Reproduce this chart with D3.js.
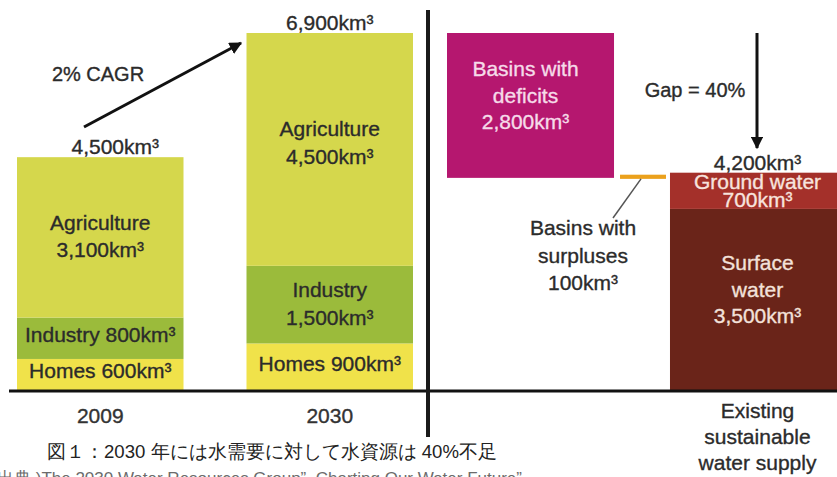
<!DOCTYPE html>
<html>
<head>
<meta charset="utf-8">
<script src="https://cdn.jsdelivr.net/npm/d3@7/dist/d3.min.js"></script>
<style>
  html, body { margin: 0; padding: 0; background: #fff; }
  svg { display: block; }
  text { font-family: "Liberation Sans", Arial, sans-serif; }
</style>
</head>
<body>
<svg id="chart" width="837" height="477"></svg>
<script>
// Water demand (km³)
const years = ["2009", "2030"];
const homes = [600, 900];
const industry = [800, 1500];
const agriculture = [3100, 4500];
const demandTotals = [4500, 6900];

// Supply side (km³)
const supplyCols = ["deficits", "existing"];
const deficits = 2800;
const surpluses = 100;
const groundWater = 700;
const surfaceWater = 3500;
const supplyTotal = 4200;

const colors = {
  homes: "#f0e24a",
  industry: "#9bbb3b",
  agriculture: "#d5d74c",
  deficits: "#b5176f",
  surpluses: "#eba11c",
  ground: "#a4302a",
  surface: "#6a2419"
};

const svg = d3.select("#chart");
const baseY = 390;

const y = d3.scaleLinear().domain([0, 6900]).range([baseY, 33]);

const xLeft = d3.scaleBand().domain(years).range([17, 413]).paddingInner(0.2745).paddingOuter(0);
const xRight = d3.scaleBand().domain(supplyCols).range([447, 837]).paddingInner(0.251).paddingOuter(0);

// Stacked demand bars
const stackRows = years.map((yr, i) => ({ year: yr, homes: homes[i], industry: industry[i], agriculture: agriculture[i] }));
const stack = d3.stack().keys(["homes", "industry", "agriculture"])(stackRows);

svg.append("g").selectAll("g")
  .data(stack)
  .join("g")
  .attr("fill", d => colors[d.key])
  .selectAll("rect")
  .data(d => d)
  .join("rect")
  .attr("x", d => xLeft(d.data.year))
  .attr("width", xLeft.bandwidth())
  .attr("y", d => y(d[1]))
  .attr("height", d => y(d[0]) - y(d[1]));

// Supply side blocks
const existingX = xRight("existing");
const bw = xRight.bandwidth();
svg.append("rect")
  .attr("x", existingX).attr("width", bw)
  .attr("y", y(surfaceWater)).attr("height", y(0) - y(surfaceWater))
  .attr("fill", colors.surface);
svg.append("rect")
  .attr("x", existingX).attr("width", bw)
  .attr("y", y(surfaceWater + groundWater)).attr("height", y(surfaceWater) - y(surfaceWater + groundWater))
  .attr("fill", colors.ground);

const defBottom = supplyTotal - surpluses;
svg.append("rect")
  .attr("x", xRight("deficits")).attr("width", bw)
  .attr("y", y(defBottom + deficits)).attr("height", y(defBottom) - y(defBottom + deficits))
  .attr("fill", colors.deficits);

// surplus strip sits in the gap between the two blocks
const surX0 = xRight("deficits") + bw + 6;
const surX1 = existingX - 4;
svg.append("rect")
  .attr("x", surX0).attr("width", surX1 - surX0)
  .attr("y", y(supplyTotal) + 2).attr("height", Math.max(3, y(defBottom) - y(supplyTotal) - 1))
  .attr("fill", colors.surpluses);

// leader line for the surplus label
svg.append("line")
  .attr("x1", 641).attr("y1", y(defBottom) + 1)
  .attr("x2", 613).attr("y2", 218)
  .attr("stroke", "#555").attr("stroke-width", 1.5);

// Axis baseline and divider
svg.append("line")
  .attr("x1", 9).attr("x2", 837).attr("y1", baseY + 1).attr("y2", baseY + 1)
  .attr("stroke", "#111").attr("stroke-width", 3);
svg.append("line")
  .attr("x1", 428).attr("x2", 428).attr("y1", 10).attr("y2", 437)
  .attr("stroke", "#1a1a1a").attr("stroke-width", 4);

// Arrowheads
const defs = svg.append("defs");
defs.append("marker")
  .attr("id", "arrow")
  .attr("viewBox", "0 0 10 10")
  .attr("refX", 9).attr("refY", 5)
  .attr("markerWidth", 4.2).attr("markerHeight", 4.2)
  .attr("markerUnits", "strokeWidth")
  .attr("orient", "auto")
  .append("path").attr("d", "M0,0 L10,5 L0,10 z").attr("fill", "#111");

svg.append("line")
  .attr("x1", 84).attr("y1", 127).attr("x2", 241).attr("y2", 43)
  .attr("stroke", "#111").attr("stroke-width", 3).attr("marker-end", "url(#arrow)");
svg.append("line")
  .attr("x1", 757).attr("y1", 33).attr("x2", 757).attr("y2", 148)
  .attr("stroke", "#111").attr("stroke-width", 3).attr("marker-end", "url(#arrow)");

// Labels
const fmt = d3.format(",");
const km = v => fmt(v) + "km³";
const dark = "#2b2b2b";

function label(x, yy, lines, color, lh, size) {
  const t = svg.append("text")
    .attr("x", x).attr("y", yy)
    .attr("text-anchor", "middle")
    .attr("fill", color)
    .attr("stroke", color)
    .attr("stroke-width", 0.35)
    .attr("font-size", size || 21);
  lines.forEach((s, i) => {
    t.append("tspan").attr("x", x).attr("dy", i === 0 ? 0 : lh).text(s);
  });
}

const c0 = xLeft("2009") + xLeft.bandwidth() / 2;
const c1 = xLeft("2030") + xLeft.bandwidth() / 2;

label(c1, 30, [km(demandTotals[1])], dark, 0);
label(c0 + 15, 154, [km(demandTotals[0])], dark, 0);
label(98, 81, ["2% CAGR"], dark, 0, 20);

label(c0, 230, ["Agriculture", km(agriculture[0])], dark, 27);
label(c0, 342, ["Industry " + km(industry[0])], dark, 0);
label(c0, 378, ["Homes " + km(homes[0])], dark, 0);

label(c1, 136, ["Agriculture", km(agriculture[1])], dark, 28);
label(c1, 297, ["Industry", km(industry[1])], dark, 28);
label(c1, 371, ["Homes " + km(homes[1])], dark, 0);

label(c0, 423, [years[0]], "#333", 0);
label(c1, 423, [years[1]], "#333", 0);

const cd = xRight("deficits") + bw / 2 - 5;
label(cd, 76, ["Basins with", "deficits", km(deficits)], "#f6dbe9", 26.5);

label(695, 97, ["Gap = 40%"], dark, 0, 20);

const ce = existingX + bw / 2 + 4;
label(ce, 170, [km(supplyTotal)], dark, 0);
label(ce, 189, ["Ground water", km(groundWater)], "#f7e3de", 17.5);
label(ce, 270, ["Surface", "water", km(surfaceWater)], "#f3e1da", 26.5);

label(583, 235, ["Basins with", "surpluses", km(surpluses)], dark, 27.5);

label(ce, 418, ["Existing", "sustainable", "water supply"], dark, 26);

// Caption and source
svg.append("text")
  .attr("x", 47).attr("y", 458)
  .attr("font-family", "'Noto Sans CJK JP', 'Noto Sans', sans-serif")
  .attr("font-size", 18.6)
  .attr("fill", "#222")
  .text("図１：2030 年には水需要に対して水資源は 40%不足");

svg.append("text")
  .attr("x", -20).attr("y", 484)
  .attr("font-family", "'Noto Sans CJK JP', 'Noto Sans', sans-serif")
  .attr("font-size", 17)
  .attr("fill", "#6b6b6b")
  .text("（出典 )The 2030 Water Resources Group”, Charting Our Water Future”");
</script>
</body>
</html>
